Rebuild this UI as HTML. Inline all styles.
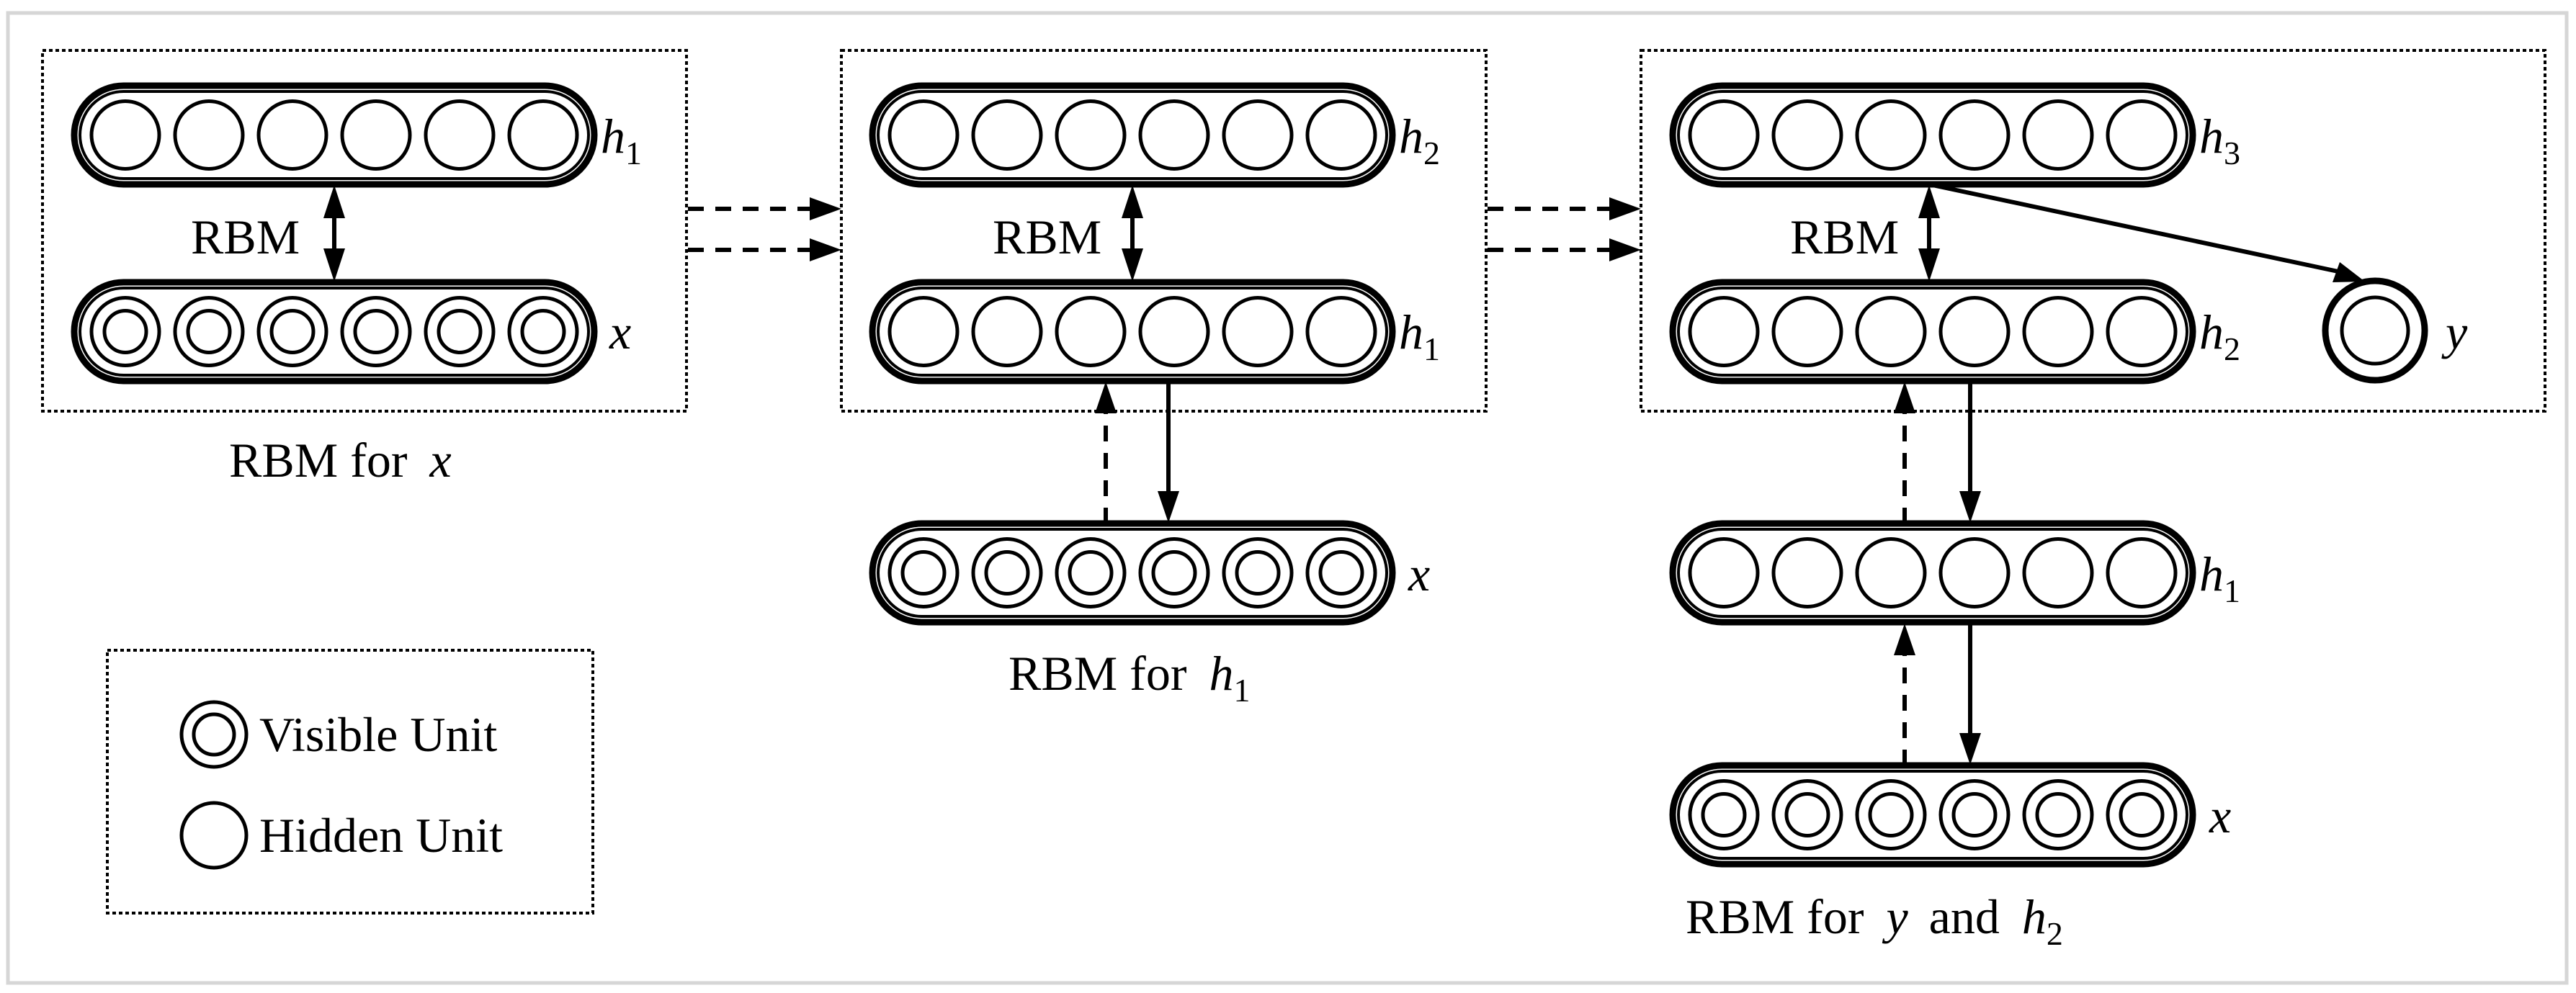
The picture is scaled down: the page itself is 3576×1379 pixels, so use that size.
<!DOCTYPE html>
<html><head><meta charset="utf-8"><style>
html,body{margin:0;padding:0;background:#fff}
svg{display:block}
text{font-family:"Liberation Serif",serif;fill:#000}
.it{font-style:italic}
</style></head><body>
<svg width="3576" height="1379" viewBox="0 0 3576 1379" xmlns="http://www.w3.org/2000/svg">
<defs>
<g id="hid">
<rect x="0" y="0" width="722" height="137" rx="68.5" fill="#fff" stroke="#000" stroke-width="9"/>
<rect x="8" y="8" width="706" height="121" rx="60.5" fill="none" stroke="#000" stroke-width="4"/>
<circle cx="71" cy="68.5" r="47" fill="none" stroke="#000" stroke-width="5"/>
<circle cx="187" cy="68.5" r="47" fill="none" stroke="#000" stroke-width="5"/>
<circle cx="303" cy="68.5" r="47" fill="none" stroke="#000" stroke-width="5"/>
<circle cx="419" cy="68.5" r="47" fill="none" stroke="#000" stroke-width="5"/>
<circle cx="535" cy="68.5" r="47" fill="none" stroke="#000" stroke-width="5"/>
<circle cx="651" cy="68.5" r="47" fill="none" stroke="#000" stroke-width="5"/>
</g>
<g id="vis">
<rect x="0" y="0" width="722" height="137" rx="68.5" fill="#fff" stroke="#000" stroke-width="9"/>
<rect x="8" y="8" width="706" height="121" rx="60.5" fill="none" stroke="#000" stroke-width="4"/>
<g fill="none" stroke="#000" stroke-width="5">
<circle cx="71" cy="68.5" r="47"/><circle cx="71" cy="68.5" r="29"/>
<circle cx="187" cy="68.5" r="47"/><circle cx="187" cy="68.5" r="29"/>
<circle cx="303" cy="68.5" r="47"/><circle cx="303" cy="68.5" r="29"/>
<circle cx="419" cy="68.5" r="47"/><circle cx="419" cy="68.5" r="29"/>
<circle cx="535" cy="68.5" r="47"/><circle cx="535" cy="68.5" r="29"/>
<circle cx="651" cy="68.5" r="47"/><circle cx="651" cy="68.5" r="29"/>
</g>
</g>
</defs>

<rect x="11" y="18" width="3552" height="1347" fill="none" stroke="#d6d6d6" stroke-width="5"/>

<g fill="none" stroke="#000" stroke-width="4" stroke-dasharray="5,4">
<rect x="59" y="70" width="894" height="501"/>
<rect x="1168" y="70" width="895" height="501"/>
<rect x="2278" y="70" width="1255" height="501"/>
<rect x="149" y="903" width="674" height="365"/>
</g>

<use href="#hid" x="103" y="119"/>
<use href="#vis" x="103" y="392"/>
<use href="#hid" x="1211" y="119"/>
<use href="#hid" x="1211" y="392"/>
<use href="#vis" x="1211" y="727"/>
<use href="#hid" x="2322" y="119"/>
<use href="#hid" x="2322" y="392"/>
<use href="#hid" x="2322" y="727"/>
<use href="#vis" x="2322" y="1063"/>

<circle cx="3297" cy="459" r="69" fill="#fff" stroke="#000" stroke-width="9"/>
<circle cx="3297" cy="459" r="46" fill="none" stroke="#000" stroke-width="5"/>

<g stroke="#000" stroke-width="6" fill="none">
<line x1="464" y1="300" x2="464" y2="348"/>
<line x1="1572" y1="300" x2="1572" y2="348"/>
<line x1="2678" y1="300" x2="2678" y2="348"/>
<line x1="1622" y1="528" x2="1622" y2="685"/>
<line x1="2735" y1="528" x2="2735" y2="685"/>
<line x1="2735" y1="864" x2="2735" y2="1020"/>
<line x1="2678" y1="256" x2="3255" y2="379"/>
</g>
<g stroke="#000" stroke-width="6" fill="none" stroke-dasharray="22,16">
<line x1="1535" y1="727" x2="1535" y2="572"/>
<line x1="2644" y1="727" x2="2644" y2="572"/>
<line x1="2644" y1="1063" x2="2644" y2="908"/>
<line x1="955" y1="290" x2="1128" y2="290"/>
<line x1="955" y1="347" x2="1128" y2="347"/>
<line x1="2065" y1="290" x2="2238" y2="290"/>
<line x1="2065" y1="347" x2="2238" y2="347"/>
</g>
<g fill="#000">
<polygon points="464,257 449,303 479,303"/><polygon points="464,391 449,345 479,345"/>
<polygon points="1572,257 1557,303 1587,303"/><polygon points="1572,391 1557,345 1587,345"/>
<polygon points="2678,257 2663,303 2693,303"/><polygon points="2678,391 2663,345 2693,345"/>
<polygon points="1622,726 1607,682 1637,682"/>
<polygon points="2735,726 2720,682 2750,682"/>
<polygon points="2735,1062 2720,1018 2750,1018"/>
<polygon points="1535,530 1520,574 1550,574"/>
<polygon points="2644,530 2629,574 2659,574"/>
<polygon points="2644,866 2629,910 2659,910"/>
<polygon points="1168,290 1124,274 1124,306"/>
<polygon points="1168,347 1124,331 1124,363"/>
<polygon points="2278,290 2234,274 2234,306"/>
<polygon points="2278,347 2234,331 2234,363"/>
<polygon points="3283,391 3238,392 3248,364"/>
</g>

<g font-size="68">
<text x="265" y="352">RBM</text>
<text x="1378" y="352">RBM</text>
<text x="2485" y="352">RBM</text>
<text x="834" y="212" class="it">h<tspan font-size="46" dy="16" font-style="normal">1</tspan></text>
<text x="846" y="484" class="it">x</text>
<text x="1942" y="212" class="it">h<tspan font-size="46" dy="16" font-style="normal">2</tspan></text>
<text x="1942" y="484" class="it">h<tspan font-size="46" dy="16" font-style="normal">1</tspan></text>
<text x="1955" y="820" class="it">x</text>
<text x="3053" y="212" class="it">h<tspan font-size="46" dy="16" font-style="normal">3</tspan></text>
<text x="3053" y="484" class="it">h<tspan font-size="46" dy="16" font-style="normal">2</tspan></text>
<text x="3395" y="484" class="it">y</text>
<text x="3053" y="820" class="it">h<tspan font-size="46" dy="16" font-style="normal">1</tspan></text>
<text x="3067" y="1156" class="it">x</text>
<text x="318" y="662">RBM for <tspan class="it" dx="14">x</tspan></text>
<text x="1400" y="958">RBM for <tspan class="it" dx="14">h</tspan><tspan font-size="46" dy="16">1</tspan></text>
<text x="2340" y="1296">RBM for <tspan class="it" dx="14">y</tspan> <tspan dx="12">and</tspan> <tspan class="it" dx="14">h</tspan><tspan font-size="46" dy="16">2</tspan></text>
<text x="360" y="1043">Visible Unit</text>
<text x="360" y="1183">Hidden Unit</text>
</g>
<g fill="none" stroke="#000" stroke-width="5">
<circle cx="297" cy="1020" r="45"/><circle cx="297" cy="1020" r="28"/>
<circle cx="297" cy="1160" r="45"/>
</g>
</svg>
</body></html>
